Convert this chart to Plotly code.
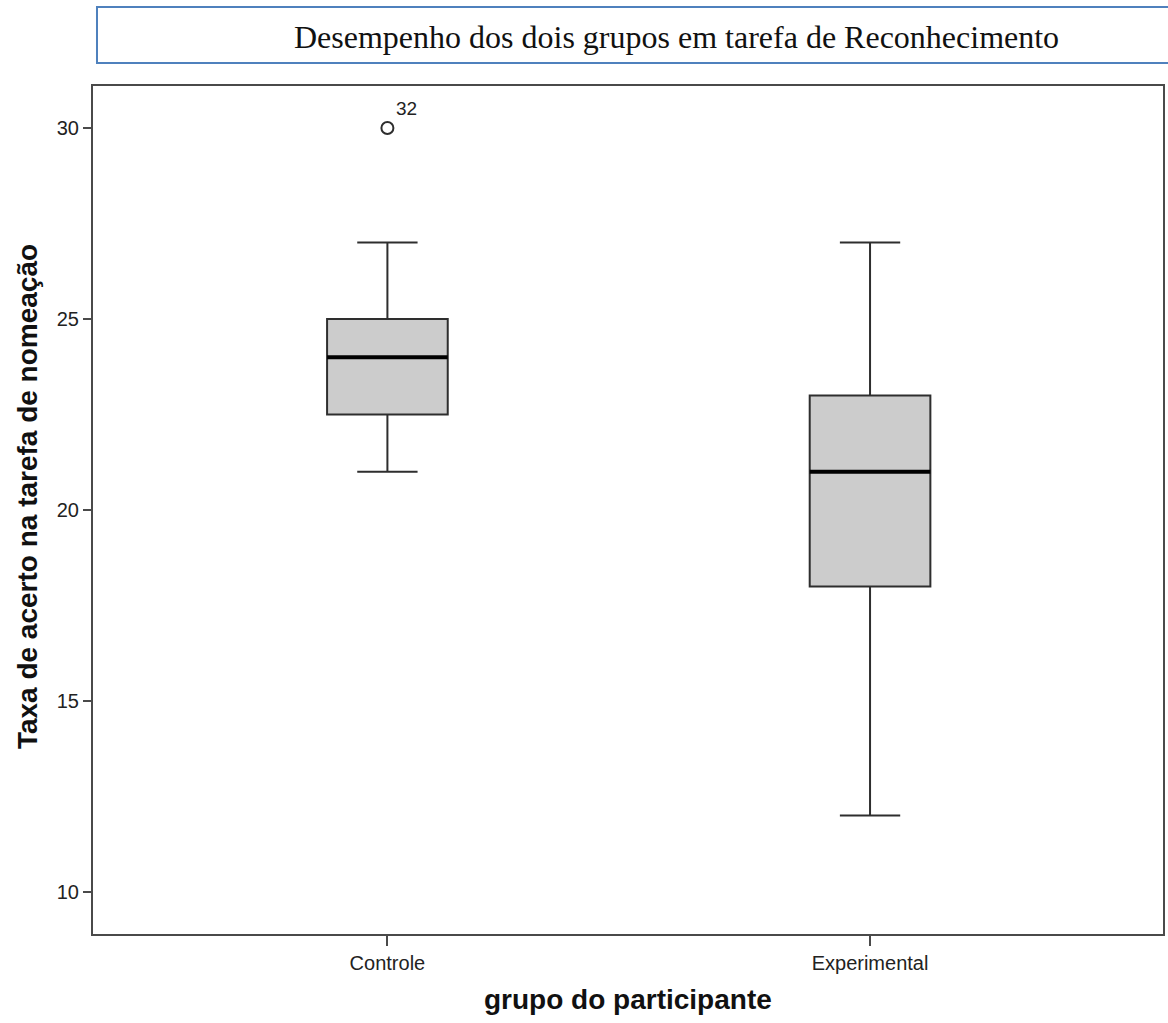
import plotly.graph_objects as go

# Group summary statistics (rate of correct answers in the naming task)
groups = ["Controle", "Experimental"]
lower_whisker = [21, 12]
q1 = [22.5, 18]
median = [24, 21]
q3 = [25, 23]
upper_whisker = [27, 27]

# Outlying case
outlier_group = ["Controle"]
outlier_value = [30]
outlier_case = ["32"]

y_ticks = [10, 15, 20, 25, 30]

W, H = 1168, 1023
ML, MR, MT, MB = 93, 3, 86, 89
PLOT_W = W - ML - MR
PLOT_H = H - MT - MB


def px_x(px):
    return (px - ML) / PLOT_W


def px_y(py):
    return (H - MB - py) / PLOT_H


BOX_W = 0.25
pos = list(range(len(groups)))
gpos = {g: i for i, g in enumerate(groups)}

fig = go.Figure()

fig.add_trace(go.Box(
    x=pos,
    q1=q1, median=median, q3=q3,
    lowerfence=lower_whisker, upperfence=upper_whisker,
    width=BOX_W, whiskerwidth=0.5,
    fillcolor="#cccccc",
    line=dict(color="#2e2e2e", width=2),
    boxpoints=False,
    hoverinfo="skip",
    showlegend=False,
))

# Heavier median bars drawn over each box
mx, my = [], []
for i, m in zip(pos, median):
    mx += [i - BOX_W / 2, i + BOX_W / 2, None]
    my += [m, m, None]
fig.add_trace(go.Scatter(
    x=mx, y=my, mode="lines",
    line=dict(color="#000000", width=4),
    hoverinfo="skip", showlegend=False,
))

fig.add_trace(go.Scatter(
    x=[gpos[g] for g in outlier_group], y=outlier_value,
    mode="markers",
    marker=dict(symbol="circle-open", size=12, color="#2e2e2e",
                line=dict(width=2, color="#2e2e2e")),
    hoverinfo="skip", showlegend=False,
))

for g, v, c in zip(outlier_group, outlier_value, outlier_case):
    fig.add_annotation(
        x=gpos[g], y=v, text=c, showarrow=False,
        xanchor="left", yanchor="bottom", xshift=7, yshift=7,
        font=dict(family="Liberation Sans, Arial", size=19, color="#222222"),
    )

axis_line = "#4a4a4a"
tick_font = dict(family="Liberation Sans, Arial", size=20, color="#222222")

fig.update_xaxes(
    range=[-0.610, 1.607],
    tickvals=pos, ticktext=groups,
    ticks="outside", ticklen=10, tickwidth=2, tickcolor=axis_line,
    showline=True, linecolor=axis_line, linewidth=2, mirror=True,
    showgrid=False, zeroline=False,
    tickfont=tick_font,
)
fig.update_yaxes(
    range=[8.9, 31.1],
    tickvals=y_ticks,
    ticks="outside", ticklen=8, tickwidth=2, tickcolor=axis_line,
    showline=True, linecolor=axis_line, linewidth=2, mirror=True,
    showgrid=False, zeroline=False,
    tickfont=tick_font,
)

# Axis titles
fig.add_annotation(
    x=0.5, y=px_y(1000), xref="paper", yref="paper",
    text="<b>grupo do participante</b>", showarrow=False,
    xanchor="center", yanchor="middle",
    font=dict(family="Liberation Sans, Arial", size=28, color="#111111"),
)
fig.add_annotation(
    x=px_x(27), y=px_y(497), xref="paper", yref="paper",
    text="<b>Taxa de acerto na tarefa de nomeação</b>", showarrow=False,
    textangle=-90, xanchor="center", yanchor="middle",
    font=dict(family="Liberation Sans, Arial", size=28, color="#111111"),
)

# Framed heading
fig.add_shape(
    type="rect", xref="paper", yref="paper",
    x0=px_x(97), x1=px_x(1172), y0=px_y(63), y1=px_y(7),
    line=dict(color="#4f81bd", width=2), fillcolor="rgba(0,0,0,0)",
)
fig.add_annotation(
    x=px_x(678), y=px_y(37), xref="paper", yref="paper",
    text="Desempenho dos dois grupos em tarefa de Reconhecimento",
    showarrow=False, xanchor="center", yanchor="middle",
    font=dict(family="Liberation Serif, Times New Roman", size=32, color="#111111"),
)

fig.update_layout(
    width=W, height=H,
    margin=dict(l=ML, r=MR, t=MT, b=MB),
    paper_bgcolor="white", plot_bgcolor="white",
    showlegend=False,
)

fig.write_html("out.html")
